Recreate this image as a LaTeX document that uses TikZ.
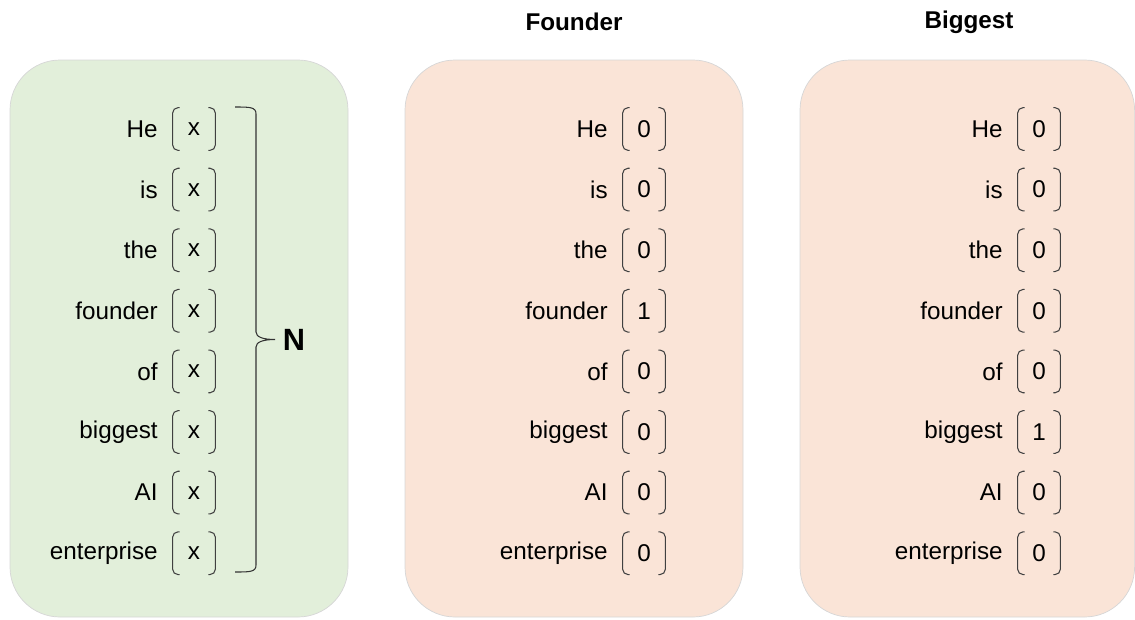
\documentclass[tikz,border=0pt]{standalone}
\usepackage{fontspec}
\setmainfont{Liberation Sans}
\definecolor{tokgreen}{HTML}{E2EFDA}
\definecolor{tokpink}{HTML}{FAE4D7}
\begin{document}
\begin{tikzpicture}[x=0.02cm,y=-0.02cm,
  panel/.style={draw=black!16,line width=0.4pt,rounded corners=1cm},
  word/.style={anchor=east,inner sep=0pt,font=\fontsize{13.8}{16}\selectfont},
  val/.style={inner sep=0pt,minimum width=0.84cm,minimum height=0.84cm,
              font=\fontsize{13.8}{16}\selectfont},
  bracket/.style={draw=black!75,line width=0.6pt,rounded corners=3pt},
  heading/.style={font=\fontsize{13.8}{16}\selectfont\bfseries},
  bigbrace/.style={draw=black!80,line width=0.6pt}]
\path[use as bounding box] (0,0) rectangle (1135,619);
% panels
\draw[panel,fill=tokgreen] (10,60) rectangle (348,617);
\draw[panel,fill=tokpink] (405,60) rectangle (743,617);
\draw[panel,fill=tokpink] (800,60) rectangle (1134.6,617);
\node[heading] (tfounder) at (574,22) {Founder};
\node[heading] (tbiggest) at (969,22) {Biggest};
% rows: word / input / founder / biggest
\foreach \w/\a/\b/\c [count=\i] in {He/x/0/0,is/x/0/0,the/x/0/0,
    founder/x/1/0,of/x/0/0,biggest/x/0/1,AI/x/0/0,enterprise/x/0/0} {
  \pgfmathsetmacro\yy{129+60.6*(\i-1)}
  \node[word] (wa\i) at (158,\yy) {\w};
  \node[val] (va\i) at (194,\yy) {\a};
  \node[word] (wb\i) at (608,\yy) {\w};
  \node[val] (vb\i) at (644,\yy) {\b};
  \node[word] (wc\i) at (1003,\yy) {\w};
  \node[val] (vc\i) at (1039,\yy) {\c};
  \foreach \v in {va,vb,vc} {
    \draw[bracket] ([xshift=4pt]\v\i.north west) -- (\v\i.north west)
      -- (\v\i.south west) -- ([xshift=4pt]\v\i.south west);
    \draw[bracket] ([xshift=-4pt]\v\i.north east) -- (\v\i.north east)
      -- (\v\i.south east) -- ([xshift=-4pt]\v\i.south east);
  }
}
% brace over the input column
\coordinate (btop) at (235,107);
\coordinate (bbot) at (235,572);
\coordinate (btip) at (275,339.5);
\draw[bigbrace] (btop) .. controls (250,107) and (256,107) .. (256,114)
  -- (256,332) .. controls (256,337) and (263,339.5) .. (btip)
  .. controls (263,339.5) and (256,342) .. (256,347)
  -- (256,565) .. controls (256,572) and (250,572) .. (bbot);
\node[font=\fontsize{17.5}{20}\selectfont\bfseries] (N) at (294,340) {N};
\end{tikzpicture}
\end{document}
